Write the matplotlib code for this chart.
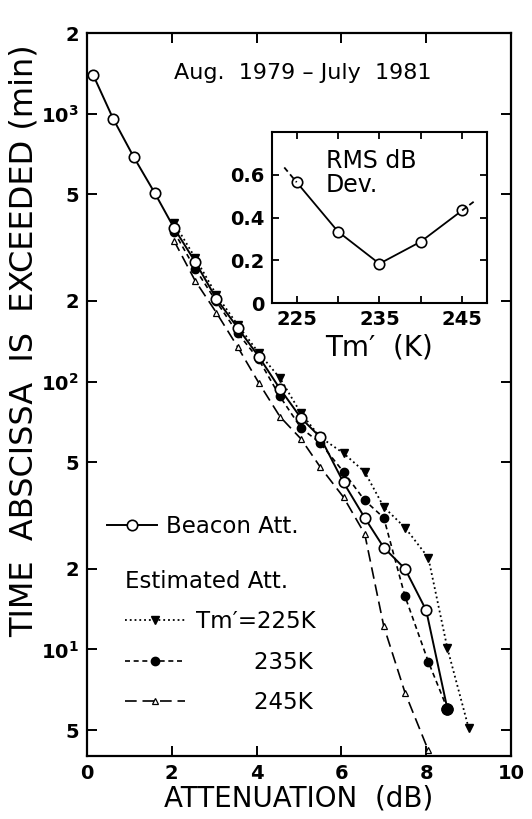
import matplotlib
matplotlib.use("Agg")
import matplotlib.pyplot as plt
from matplotlib.ticker import FixedLocator, FixedFormatter, NullLocator

plt.rcParams['font.family'] = ['DejaVu Sans']
plt.rcParams['mathtext.default'] = 'bf'

# measured beacon attenuation distribution
beacon_x = [0.15, 0.62, 1.1, 1.6, 2.05, 2.55, 3.05, 3.55, 4.05, 4.55, 5.05, 5.5,
            6.05, 6.55, 7.0, 7.5, 8.0, 8.5]
beacon_y = [1390, 955, 690, 505, 375, 280, 204, 159, 124, 94, 73, 62,
            42, 31, 24, 20, 14, 6.0]

# estimated attenuation for three mean radiating temperatures
est_x = [2.05, 2.55, 3.05, 3.55, 4.05, 4.55, 5.05, 5.5, 6.05, 6.55, 7.0, 7.5, 8.05, 8.5, 9.0]
tm225_y = [392, 290, 211, 163, 128, 103, 76, 62, 54, 46, 34, 28.5, 22, 10.1, 5.1]
tm235_y = [363, 264, 199, 152, 121, 88, 67, 59, 46, 36, 31, 15.8, 9.0, 6.0]
tm245_y = [336, 238, 181, 135, 99, 74, 61, 48, 37, 27, 12.2, 6.9, 4.2]

# inset: rms deviation vs Tm'
tm_vals = [225, 230, 235, 240, 245]
rms_dev = [0.565, 0.334, 0.184, 0.287, 0.433]

ytick_vals = [5, 10, 20, 50, 100, 200, 500, 1000, 2000]
ytick_labels = ['5', '$10^1$', '2', '5', '$10^2$', '2', '5', '$10^3$', '2']

fig = plt.figure(figsize=(5.32, 8.19), dpi=100)
ax = fig.add_axes([0.1635, 0.0769, 0.797, 0.8828])

l_b, = ax.plot(beacon_x, beacon_y, '-', color='black', lw=1.4, marker='o',
               ms=7.5, mfc='white', mec='black', mew=1.2, zorder=4)
l_225, = ax.plot(est_x, tm225_y, ':', color='black', lw=1.3, marker='v',
                 ms=5.5, mfc='black', mec='black', zorder=3)
l_235, = ax.plot(est_x[:len(tm235_y)], tm235_y, color='black', lw=1.2,
                 dashes=(3, 2.2), marker='o', ms=6, mfc='black', mec='black', zorder=3)
l_245, = ax.plot(est_x[:len(tm245_y)], tm245_y, color='black', lw=1.2,
                 dashes=(7, 3.5), marker='^', ms=5, mfc='white', mec='black', mew=0.9, zorder=3)
# last common point drawn a bit bigger as in the original
ax.plot(beacon_x[-1:], beacon_y[-1:], 'o', color='black', ms=8, zorder=5)

ax.set_yscale('log')
ax.set_xlim(0, 10)
ax.set_ylim(4, 2000)
ax.yaxis.set_major_locator(FixedLocator(ytick_vals))
ax.yaxis.set_major_formatter(FixedFormatter(ytick_labels))
ax.yaxis.set_minor_locator(NullLocator())
ax.set_xticks([0, 2, 4, 6, 8, 10])
ax.set_xticklabels(['0', '2', '4', '6', '8', '10'])
ax.tick_params(direction='in', length=7, width=1.4, top=True, right=True,
               labelsize=14, pad=6)
for lab in ax.get_xticklabels() + ax.get_yticklabels():
    lab.set_fontweight('bold')
for sp in ax.spines.values():
    sp.set_linewidth(1.6)

ax.set_xlabel('ATTENUATION  (dB)', fontsize=20, labelpad=1)
ax.set_ylabel('TIME  ABSCISSA  IS  EXCEEDED (min)', fontsize=23)
ax.yaxis.set_label_coords(-0.112, 0.575)

ax.text(0.51, 0.945, 'Aug.  1979 – July  1981', transform=ax.transAxes,
        ha='center', va='center', fontsize=16)

leg1 = ax.legend([l_b], ['Beacon Att.'], loc='upper left', bbox_to_anchor=(0.047, 0.333),
                 frameon=False, fontsize=16.5, handlelength=2.2, handletextpad=0.4,
                 borderpad=0, borderaxespad=0)
ax.add_artist(leg1)
leg2 = ax.legend([l_225, l_235, l_245],
                 ['Tm′=225K', '        235K', '        245K'],
                 title='Estimated Att.', title_fontsize=16.5, alignment='left',
                 loc='upper left', bbox_to_anchor=(0.09, 0.257),
                 frameon=False, fontsize=16.5, handlelength=2.6, handletextpad=0.5,
                 labelspacing=0.75, borderpad=0, borderaxespad=0)

# inset
ins = fig.add_axes([0.511, 0.630, 0.4043, 0.2088])
ins.plot(tm_vals, rms_dev, '-', color='black', lw=1.3, marker='o', ms=7.5,
         mfc='white', mec='black', mew=1.2)
# short dashed continuation beyond both ends
ins.plot([tm_vals[0] - 0.3 * (tm_vals[1] - tm_vals[0]), tm_vals[0]],
         [rms_dev[0] - 0.3 * (rms_dev[1] - rms_dev[0]), rms_dev[0]],
         color='black', lw=1.3, dashes=(3, 2))
ins.plot([tm_vals[-1], tm_vals[-1] + 0.3 * (tm_vals[-1] - tm_vals[-2])],
         [rms_dev[-1], rms_dev[-1] + 0.3 * (rms_dev[-1] - rms_dev[-2])],
         color='black', lw=1.3, dashes=(3, 2))
ins.set_xlim(222, 248)
ins.set_ylim(0, 0.8)
ins.set_xticks([225, 230, 235, 240, 245])
ins.set_xticklabels(['225', '', '235', '', '245'])
ins.set_yticks([0, 0.2, 0.4, 0.6])
ins.set_yticklabels(['0', '0.2', '0.4', '0.6'])
ins.tick_params(direction='in', length=5, width=1.3, top=True, right=True,
                labelsize=14, pad=5)
for lab in ins.get_xticklabels() + ins.get_yticklabels():
    lab.set_fontweight('bold')
for sp in ins.spines.values():
    sp.set_linewidth(1.5)
ins.set_xlabel('Tm′  (K)', fontsize=20, labelpad=3)
ins.text(0.25, 0.9, 'RMS dB\nDev.', transform=ins.transAxes, ha='left', va='top',
         fontsize=17, linespacing=1.0)

fig.savefig('out.png', dpi=100)
